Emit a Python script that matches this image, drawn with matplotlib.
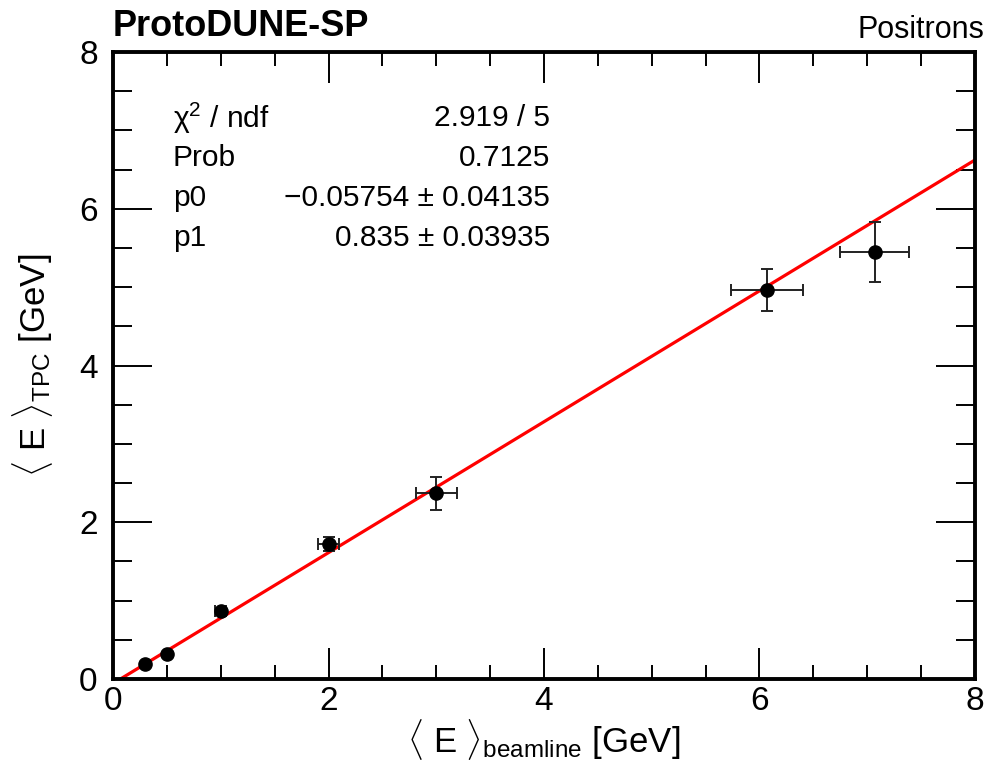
import matplotlib
matplotlib.use("Agg")
import matplotlib.pyplot as plt
import numpy as np
from matplotlib.ticker import MultipleLocator

plt.rcParams['font.family'] = ['Liberation Sans', 'DejaVu Sans']
plt.rcParams['mathtext.fontset'] = 'custom'
plt.rcParams['mathtext.rm'] = 'Liberation Sans'
plt.rcParams['mathtext.it'] = 'Liberation Sans:italic'
plt.rcParams['mathtext.bf'] = 'Liberation Sans:bold'

# data
e_beam = [0.30, 0.50, 1.00, 2.00, 3.00, 6.07, 7.07]
e_beam_err = [0.0, 0.0, 0.05, 0.10, 0.19, 0.33, 0.32]
e_tpc = [0.19, 0.32, 0.87, 1.72, 2.37, 4.96, 5.45]
e_tpc_err = [0.0, 0.0, 0.04, 0.09, 0.21, 0.27, 0.38]
p0 = -0.05754
p1 = 0.835
stat_names = ['\u03c7$^2$ / ndf', 'Prob', 'p0', 'p1']
stat_values = ['2.919 / 5', '0.7125', '\u22120.05754 \u00b1 0.04135', '0.835 \u00b1 0.03935']

fig = plt.figure(figsize=(9.87, 7.67), dpi=100)
ax = fig.add_axes([113/987, 88/767, 862/987, 627/767])

xf = np.array([0.0, 8.0])
ax.plot(xf, p0 + p1 * xf, color='#ff0000', lw=2.3, zorder=2)
ax.errorbar(e_beam, e_tpc, xerr=e_beam_err, yerr=e_tpc_err, fmt='o', color='black',
            ms=9.5, elinewidth=1.4, capsize=4.5, capthick=1.4, ecolor='#222222', zorder=3)

ax.set_xlim(0, 8)
ax.set_ylim(0, 8)
ax.xaxis.set_major_locator(MultipleLocator(2))
ax.xaxis.set_minor_locator(MultipleLocator(0.5))
ax.yaxis.set_major_locator(MultipleLocator(2))
ax.yaxis.set_minor_locator(MultipleLocator(0.5))
ax.tick_params(which='both', direction='in', top=True, right=True, labelsize=24, width=1.4)
ax.tick_params(axis='x', which='major', length=22, pad=5)
ax.tick_params(axis='x', which='minor', length=10)
ax.tick_params(axis='y', which='major', length=28, pad=11)
ax.tick_params(axis='y', which='minor', length=14)
for s in ax.spines.values():
    s.set_linewidth(2.8)

ax.set_xlabel(r'$\langle$ E $\rangle_{\mathrm{beamline}}$ [GeV]', fontsize=25, labelpad=0)
ax.set_ylabel(r'$\langle$ E $\rangle_{\mathrm{TPC}}$ [GeV]', fontsize=25)
ax.yaxis.set_label_coords(-58/862, 0.5)

fig.text(113/987, 1 - 27/767, 'ProtoDUNE-SP', fontsize=26, fontweight='bold', va='center', ha='left')
fig.text(984/987, 1 - 30/767, 'Positrons', fontsize=22, va='center', ha='right')

for i, (n, v) in enumerate(zip(stat_names, stat_values)):
    y = 1 - (118 + 40 * i) / 767
    fig.text(173/987, y, n, fontsize=21.5, va='center', ha='left')
    fig.text(550/987, y, v, fontsize=21.5, va='center', ha='right')

fig.savefig('out.png', dpi=100)
